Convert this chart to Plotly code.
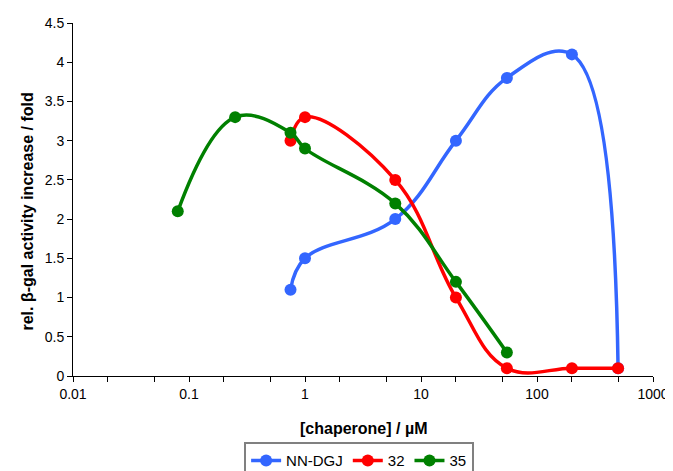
import plotly.graph_objects as go

# Data
x_nndgj = [0.75, 1, 6, 20, 55, 200, 500]
y_nndgj = [1.1, 1.5, 2.0, 3.0, 3.8, 4.1, 0.1]

x_32 = [0.75, 1, 6, 20, 55, 200, 500]
y_32 = [3.0, 3.3, 2.5, 1.0, 0.1, 0.1, 0.1]

x_35 = [0.08, 0.25, 0.75, 1, 6, 20, 55]
y_35 = [2.1, 3.3, 3.1, 2.9, 2.2, 1.2, 0.3]

x_tickvals = [0.01, 0.1, 1, 10, 100, 1000]
x_ticktext = ["0.01", "0.1", "1", "10", "100", "1000"]
y_tickvals = [0, 0.5, 1, 1.5, 2, 2.5, 3, 3.5, 4, 4.5]
y_ticktext = ["0", "0.5", "1", "1.5", "2", "2.5", "3", "3.5", "4", "4.5"]

series = [
    ("NN-DGJ", x_nndgj, y_nndgj, "#3366FF"),
    ("32", x_32, y_32, "#FF0000"),
    ("35", x_35, y_35, "#008000"),
]

fig = go.Figure()
for name, xs, ys, col in series:
    fig.add_trace(go.Scatter(
        x=xs, y=ys, name=name, mode="lines+markers",
        line=dict(color=col, width=3.5, shape="spline", smoothing=1.15),
        marker=dict(color=col, size=12),
        cliponaxis=False,
    ))

font = "Liberation Sans, Arial, sans-serif"
fig.update_layout(
    width=665, height=463,
    margin=dict(l=65, r=20, t=15, b=95),
    paper_bgcolor="white", plot_bgcolor="white",
    font=dict(family=font, size=14, color="black"),
    showlegend=True,
    legend=dict(orientation="h", x=0.528, xanchor="center", xref="container",
                y=0.062, yanchor="top", yref="container",
                bordercolor="#808080", borderwidth=2, font=dict(size=15),
                itemwidth=30, tracegroupgap=0),
    xaxis=dict(
        type="log", range=[-2, 3], automargin=False,
        tickvals=x_tickvals, ticktext=x_ticktext,
        showgrid=False, zeroline=False,
        showline=True, linecolor="black", linewidth=1,
        ticks="outside", ticklen=5, tickcolor="black",
        minor=dict(ticks="outside", ticklen=5, tickcolor="black", showgrid=False),
        tickfont=dict(size=14),
    ),
    yaxis=dict(
        range=[0, 4.5], automargin=False,
        tickvals=y_tickvals, ticktext=y_ticktext,
        showgrid=False, zeroline=False,
        showline=True, linecolor="black", linewidth=1,
        ticks="outside", ticklen=5, tickcolor="black",
        tickfont=dict(size=14),
    ),
    annotations=[
        dict(text="<b>[chaperone] / µM</b>", xref="paper", yref="paper",
             x=0.5, y=-0.150, xanchor="center", yanchor="middle",
             showarrow=False, font=dict(size=16)),
        dict(text="<b>rel. β-gal activity increase / fold</b>", xref="paper", yref="paper",
             x=-0.0784, y=0.4646, xanchor="center", yanchor="middle", textangle=-90,
             showarrow=False, font=dict(size=16)),
    ],
)

fig.write_html("out.html")
